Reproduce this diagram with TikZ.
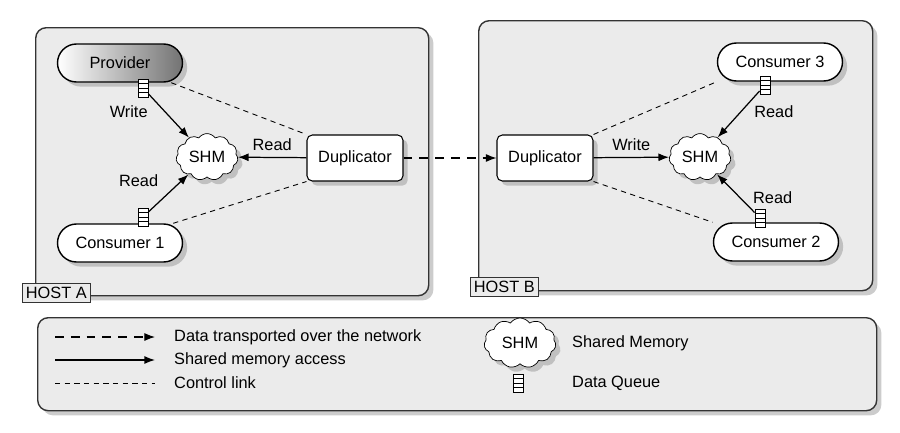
\documentclass[tikz,border=0pt]{standalone}
\usepackage{fontspec}
\setmainfont{Liberation Sans}
\usetikzlibrary{shapes.symbols,shadows,arrows.meta,calc}
\begin{document}
\begin{tikzpicture}[x=0.02cm,y=-0.02cm,font=\fontsize{9.3}{11}\selectfont,
  host/.style={draw=black!80,line width=0.8pt,fill=black!8,rounded corners=6pt,drop shadow={opacity=0.4}},
  hlabel/.style={draw=black!80,fill=black!8,inner sep=2pt,anchor=north west,minimum height=17*0.02cm},
  term/.style={draw,line width=0.8pt,rounded corners=19*0.02cm,minimum width=125*0.02cm,minimum height=38*0.02cm,fill=white,drop shadow={opacity=0.4}},
  dup/.style={draw,line width=0.6pt,rounded corners=3pt,minimum width=96*0.02cm,minimum height=46*0.02cm,fill=white,drop shadow={opacity=0.4}},
  shm/.style={cloud,cloud puffs=11,cloud puff arc=110,aspect=1.4,draw,fill=white,inner sep=1pt,minimum width=62*0.02cm,minimum height=44*0.02cm,drop shadow={opacity=0.4}},
  queue/.style={draw,fill=white,minimum width=10*0.02cm,minimum height=18*0.02cm,inner sep=0pt,
    path picture={\foreach \f in {0.25,0.5,0.75}{\draw ($(path picture bounding box.north west)!\f!(path picture bounding box.south west)$) -- ++(10*0.02cm,0);}}},
  ctrl/.style={dash pattern=on 3pt off 2.5pt,line width=0.5pt},
  acc/.style={-{Latex[length=6pt]},line width=0.7pt},
  net/.style={dash pattern=on 5pt off 4pt,-{Latex[length=6pt]},line width=0.6pt}]
\useasboundingbox (0,0) rectangle (900,433);
% hosts
\node[host,minimum width=393*0.02cm,minimum height=268*0.02cm,anchor=north west] (ha) at (35,27) {};
\node[hlabel] (hal) at (22,283) {HOST A};
\node[host,minimum width=394*0.02cm,minimum height=270*0.02cm,anchor=north west] (hb) at (478,20) {};
\node[hlabel] (hbl) at (470,277) {HOST B\hspace{14pt}};
\node[host,minimum width=839*0.02cm,minimum height=93*0.02cm,anchor=north west] (lg) at (37,317) {};
% host A
\node[term,left color=white,right color=black!55] (prov) at (120,63) {Provider};
\node[term] (c1) at (120,243) {Consumer 1};
\node[shm] (shma) at (207,157) {SHM};
\node[dup] (dupa) at (355,158) {Duplicator};
\node[queue] (qp) at (143,88) {};
\node[queue] (qc1) at (143,217) {};
% host B
\node[term] (c3) at (780,62) {Consumer 3};
\node[term] (c2) at (776,242) {Consumer 2};
\node[shm] (shmb) at (700,157) {SHM};
\node[dup] (dupb) at (545,158) {Duplicator};
\node[queue] (qc3) at (765,85) {};
\node[queue] (qc2) at (760,218) {};
% control links
\draw[ctrl] (prov.south east) ++(-12,0) coordinate (p1) -- (dupa.north west);
\draw[ctrl] (c1.north east) ++(-10,0) coordinate (p2) -- (dupa.south west);
\draw[ctrl] (dupb.north east) -- (c3.south west);
\draw[ctrl] (dupb.south east) -- (c2.north west);
% accesses
\draw[acc] (qp) -- node[left=6pt,pos=0.4] {Write} (shma);
\draw[acc] (qc1) -- node[above left=1pt,pos=0.45] {Read} (shma);
\draw[acc] (dupa) -- node[above] {Read} (shma);
\draw[acc] (dupb) -- node[above] {Write} (shmb);
\draw[acc] (qc3) -- node[right=4pt,pos=0.45] {Read} (shmb);
\draw[acc] (qc2) -- node[right=4pt,pos=0.4] {Read} (shmb);
\draw[net] (dupa) -- (dupb);
% legend
\coordinate (l1a) at (55,337); \coordinate (l1b) at (155,337);
\coordinate (l2a) at (55,360); \coordinate (l2b) at (155,360);
\coordinate (l3a) at (55,383); \coordinate (l3b) at (155,383);
\draw[net] (l1a) -- (l1b);
\draw[acc] (l2a) -- (l2b);
\draw[ctrl] (l3a) -- (l3b);
\node[anchor=west] (t1) at (168,337) {Data transported over the network};
\node[anchor=west] (t2) at (168,360) {Shared memory access};
\node[anchor=west] (t3) at (168,383) {Control link};
\node[shm,minimum width=72*0.02cm,minimum height=50*0.02cm] (lshm) at (520,343) {SHM};
\node[queue] (lq) at (518,383) {};
\node[anchor=west] (t4) at (566,343) {Shared Memory};
\node[anchor=west] (t5) at (566,383) {Data Queue};
\end{tikzpicture}
\end{document}
